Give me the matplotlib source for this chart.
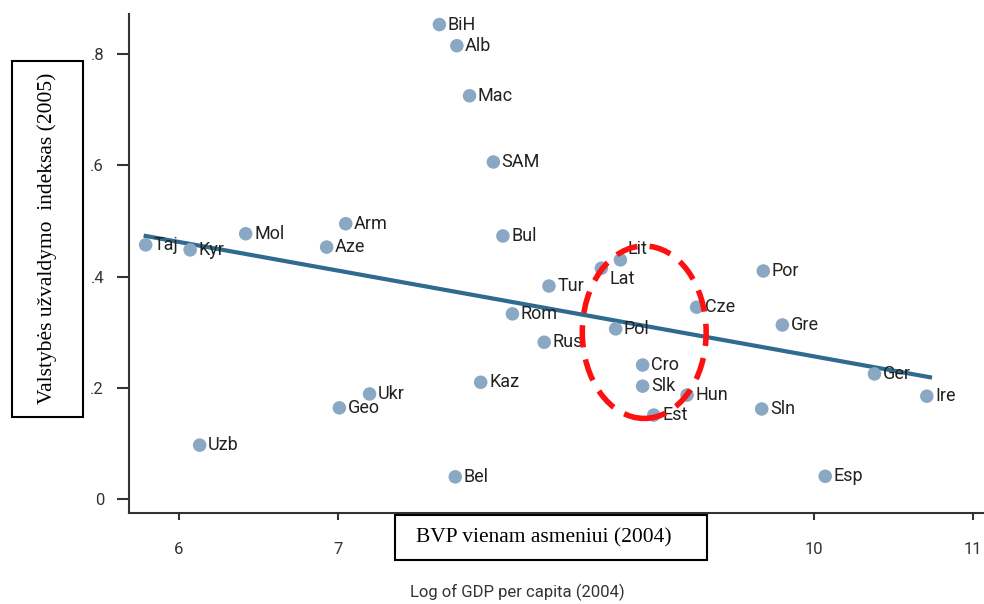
import matplotlib
matplotlib.use("Agg")
import matplotlib.pyplot as plt
from matplotlib.patches import Ellipse, Rectangle
import numpy as np

# ---------------- data ----------------
countries = ["Taj", "Kyr", "Mol", "Uzb", "Arm", "Aze", "Geo", "Ukr",
             "BiH", "Alb", "Mac", "SAM", "Bul", "Tur", "Rom", "Rus",
             "Kaz", "Bel", "Lat", "Lit", "Pol", "Cro", "Slk", "Est",
             "Hun", "Cze", "Por", "Gre", "Sln", "Esp", "Ger", "Ire"]
log_gdp = [5.79, 6.07, 6.42, 6.13, 7.05, 6.93, 7.01, 7.20,
           7.64, 7.75, 7.83, 7.98, 8.04, 8.33, 8.10, 8.30,
           7.90, 7.74, 8.66, 8.78, 8.75, 8.92, 8.92, 8.99,
           9.20, 9.26, 9.68, 9.80, 9.67, 10.07, 10.38, 10.71]
capture = [0.457, 0.448, 0.477, 0.097, 0.495, 0.453, 0.164, 0.189,
           0.853, 0.815, 0.725, 0.606, 0.473, 0.383, 0.333, 0.282,
           0.210, 0.040, 0.415, 0.430, 0.306, 0.241, 0.203, 0.151,
           0.187, 0.345, 0.410, 0.313, 0.162, 0.041, 0.225, 0.185]

# fitted line, end points
fit_x = [5.79, 10.73]
fit_y = [0.473, 0.219]

xticks = [6, 7, 8, 9, 10, 11]
xtick_labels = ["6", "7", "", "", "10", "11"]  # 8 and 9 sit under the box
yticks = [0, 0.2, 0.4, 0.6, 0.8]
ytick_labels = ["0", ".2", ".4", ".6", ".8"]

# labels that sit off the usual right-hand spot (offset in points)
label_shift = {"Lat": (6, -8), "Lit": (5, 8)}

dot_color = "#8aa8c3"
line_color = "#2e6b8f"
narrow = ["Roboto", "DejaVu Sans"]
serif = ["Liberation Serif", "DejaVu Serif"]

fig = plt.figure(figsize=(9.84, 6.04), dpi=100)
fig.patch.set_facecolor("white")
ax = fig.add_axes([129 / 984, 91 / 604, 855 / 984, 499 / 604])

ax.plot(fit_x, fit_y, color=line_color, lw=3, zorder=2)
ax.scatter(log_gdp, capture, s=95, color=dot_color, edgecolor="none", zorder=3)

for name, x, y in zip(countries, log_gdp, capture):
    dx, dy = label_shift.get(name, (6, 0))
    ax.annotate(name, (x, y), xytext=(dx, dy), textcoords="offset points",
                ha="left", va="center", fontsize=13, color="#222222",
                family=narrow, zorder=4)

# red dashed ellipse round the Baltic / central European group
ax.add_patch(Ellipse((8.93, 0.300), 0.78, 0.31, fill=False,
                     edgecolor="#ff1010", lw=4, ls=(0, (4, 2.2)), zorder=5))

ax.set_xlim(5.685, 11.07)
ax.set_ylim(-0.025, 0.872)
ax.set_xticks(xticks)
ax.set_xticklabels(xtick_labels, family=narrow, fontsize=12, color="#333333")
ax.set_yticks(yticks)
ax.set_yticklabels(ytick_labels, family=narrow, fontsize=12, color="#333333")
ax.tick_params(axis="y", length=9, width=1.5, pad=9, color="#333333")
ax.tick_params(axis="x", length=5, width=1.5, pad=16, color="#333333")
for side in ["top", "right"]:
    ax.spines[side].set_visible(False)
for side in ["left", "bottom"]:
    ax.spines[side].set_linewidth(1.5)
    ax.spines[side].set_color("#333333")

fig.text(517 / 984, 1 - 592 / 604, "Log of GDP per capita (2004)",
         ha="center", va="center", fontsize=12, family=narrow, color="#333333")

# boxed Lithuanian captions laid over the axis titles
fig.add_artist(Rectangle((12 / 984, 1 - 417 / 604), 71 / 984, 356 / 604,
                         transform=fig.transFigure, facecolor="white",
                         edgecolor="black", lw=1.5, zorder=10))
fig.text(47 / 984, 1 - 238 / 604, "Valstybės užvaldymo  indeksas (2005)",
         rotation=90, ha="center", va="center", fontsize=15.5, family=serif,
         zorder=11)
fig.add_artist(Rectangle((395 / 984, 1 - 560 / 604), 312 / 984, 45 / 604,
                         transform=fig.transFigure, facecolor="white",
                         edgecolor="black", lw=1.5, zorder=10))
fig.text(416 / 984, 1 - 538 / 604, "BVP vienam asmeniui (2004)",
         ha="left", va="center", fontsize=15.5, family=serif, zorder=11)

fig.savefig("out.png", dpi=100)
